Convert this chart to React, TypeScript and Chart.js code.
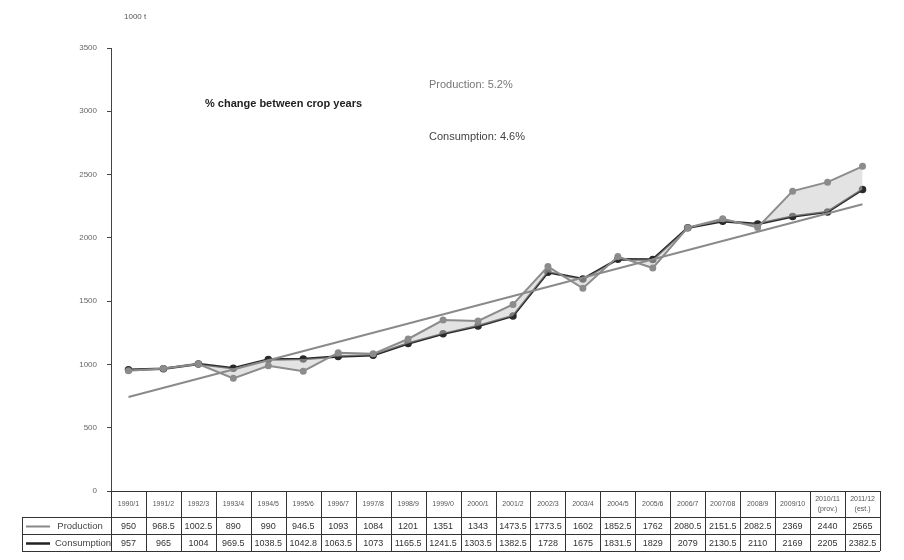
import React, { useEffect, useRef } from "react";
import { Chart, registerables } from "chart.js";

Chart.register(...registerables);

const categories = [
  "1990/1", "1991/2", "1992/3", "1993/4", "1994/5", "1995/6", "1996/7", "1997/8",
  "1998/9", "1999/0", "2000/1", "2001/2", "2002/3", "2003/4", "2004/5", "2005/6",
  "2006/7", "2007/08", "2008/9", "2009/10", "2010/11|(prov.)", "2011/12|(est.)",
];
const production = [
  950, 968.5, 1002.5, 890, 990, 946.5, 1093, 1084, 1201, 1351, 1343, 1473.5,
  1773.5, 1602, 1852.5, 1762, 2080.5, 2151.5, 2082.5, 2369, 2440, 2565,
];
const consumption = [
  957, 965, 1004, 969.5, 1038.5, 1042.8, 1063.5, 1073, 1165.5, 1241.5, 1303.5, 1382.5,
  1728, 1675, 1831.5, 1829, 2079, 2130.5, 2110, 2169, 2205, 2382.5,
];
const productionLabels = [
  "950", "968.5", "1002.5", "890", "990", "946.5", "1093", "1084", "1201", "1351", "1343", "1473.5",
  "1773.5", "1602", "1852.5", "1762", "2080.5", "2151.5", "2082.5", "2369", "2440", "2565",
];
const consumptionLabels = [
  "957", "965", "1004", "969.5", "1038.5", "1042.8", "1063.5", "1073", "1165.5", "1241.5", "1303.5", "1382.5",
  "1728", "1675", "1831.5", "1829", "2079", "2130.5", "2110", "2169", "2205", "2382.5",
];
const trend = [
  742, null, null, null, null, null, null, null, null, null, null, null,
  null, null, null, null, null, null, null, null, null, 2265,
];
const yTicks = [0, 500, 1000, 1500, 2000, 2500, 3000, 3500];

const FONT = "'Liberation Sans', Arial, sans-serif";

const tablePlugin = {
  id: "tablePlugin",
  afterDraw(chart: any) {
    const ctx = chart.ctx;
    const area = chart.chartArea;
    const n = categories.length;
    const w = (area.right - area.left) / n;
    const top = area.bottom;
    const r1 = top + 26;
    const r2 = r1 + 17;
    const r3 = r2 + 17;
    const labelLeft = 22;
    ctx.save();
    ctx.strokeStyle = "#333";
    ctx.lineWidth = 1;
    ctx.beginPath();
    ctx.moveTo(area.left, top + 0.5);
    ctx.lineTo(area.right, top + 0.5);
    ctx.moveTo(labelLeft, r1 + 0.5);
    ctx.lineTo(area.right, r1 + 0.5);
    ctx.moveTo(labelLeft, r2 + 0.5);
    ctx.lineTo(area.right, r2 + 0.5);
    ctx.moveTo(labelLeft, r3 + 0.5);
    ctx.lineTo(area.right, r3 + 0.5);
    ctx.moveTo(labelLeft + 0.5, r1);
    ctx.lineTo(labelLeft + 0.5, r3);
    for (let i = 0; i <= n; i++) {
      const x = Math.round(area.left + i * w) + 0.5;
      ctx.moveTo(x, top);
      ctx.lineTo(x, r3);
    }
    ctx.stroke();

    ctx.textAlign = "center";
    ctx.textBaseline = "middle";
    for (let i = 0; i < n; i++) {
      const cx = area.left + (i + 0.5) * w;
      const parts = categories[i].split("|");
      ctx.fillStyle = "#555";
      ctx.font = `7px ${FONT}`;
      if (parts.length === 1) {
        ctx.fillText(parts[0], cx, top + 13);
      } else {
        ctx.fillText(parts[0], cx, top + 8);
        ctx.fillText(parts[1], cx, top + 18);
      }
      ctx.fillStyle = "#333";
      ctx.font = `9px ${FONT}`;
      ctx.fillText(productionLabels[i], cx, (r1 + r2) / 2 + 1);
      ctx.fillText(consumptionLabels[i], cx, (r2 + r3) / 2 + 1);
    }
    ctx.font = `9.5px ${FONT}`;
    ctx.fillStyle = "#444";
    ctx.fillText("Production", 80, (r1 + r2) / 2 + 1);
    ctx.fillText("Consumption", 83, (r2 + r3) / 2 + 1);
    ctx.strokeStyle = "#888";
    ctx.lineWidth = 2;
    ctx.beginPath();
    ctx.moveTo(26, (r1 + r2) / 2 + 1);
    ctx.lineTo(50, (r1 + r2) / 2 + 1);
    ctx.stroke();
    ctx.strokeStyle = "#222";
    ctx.lineWidth = 2.5;
    ctx.beginPath();
    ctx.moveTo(26, (r2 + r3) / 2 + 1);
    ctx.lineTo(50, (r2 + r3) / 2 + 1);
    ctx.stroke();

    ctx.textAlign = "left";
    ctx.textBaseline = "alphabetic";
    ctx.fillStyle = "#555";
    ctx.font = `8px ${FONT}`;
    ctx.fillText("1000 t", 124, 19);
    ctx.fillStyle = "#222";
    ctx.font = `bold 11px ${FONT}`;
    ctx.fillText("% change between crop years", 205, 107);
    ctx.fillStyle = "#777";
    ctx.font = `11px ${FONT}`;
    ctx.fillText("Production: 5.2%", 429, 88);
    ctx.fillStyle = "#444";
    ctx.fillText("Consumption: 4.6%", 429, 140);
    ctx.restore();
  },
};

export default function App() {
  const ref = useRef<HTMLCanvasElement>(null);
  useEffect(() => {
    const chart = new Chart(ref.current!, {
      type: "line",
      data: {
        labels: categories,
        datasets: [
          {
            label: "Trend",
            data: trend as any,
            borderColor: "#8a8a8a",
            borderWidth: 2,
            pointRadius: 0,
            spanGaps: true,
            fill: false,
          },
          {
            label: "Production",
            data: production,
            borderColor: "#8c8c8c",
            backgroundColor: "rgba(200,200,200,0.5)",
            borderWidth: 2,
            pointRadius: 2.5,
            pointBackgroundColor: "#8c8c8c",
            pointBorderColor: "#8c8c8c",
            fill: "+1",
          },
          {
            label: "Consumption",
            data: consumption,
            borderColor: "#2a2a2a",
            borderWidth: 2.5,
            pointRadius: 2.5,
            pointBackgroundColor: "#2a2a2a",
            pointBorderColor: "#2a2a2a",
            fill: false,
          },
        ],
      },
      options: {
        animation: false,
        responsive: false,
        layout: { padding: { left: 0, right: 24, top: 48, bottom: 69 } },
        plugins: { legend: { display: false }, tooltip: { enabled: false } },
        scales: {
          x: {
            offset: true,
            grid: { display: false },
            border: { display: true, color: "#444" },
            ticks: { display: false },
            afterFit: (s: any) => { s.height = 0; },
          },
          y: {
            min: 0,
            max: 3500,
            afterBuildTicks: (s: any) => { s.ticks = yTicks.map((v) => ({ value: v })); },
            grid: { drawOnChartArea: false, tickLength: 4, color: "#444" },
            border: { display: true, color: "#444" },
            ticks: {
              color: "#666",
              font: { size: 8, family: FONT },
              padding: 10,
              callback: (v: any) => String(v),
            },
            afterFit: (s: any) => { s.width = 111; },
          },
        },
      },
      plugins: [tablePlugin],
    });
    return () => chart.destroy();
  }, []);
  return (
    <div style={{ position: "fixed", left: 0, top: 0, width: 904, height: 560, background: "#fff" }}>
      <canvas ref={ref} width={904} height={560} />
    </div>
  );
}
